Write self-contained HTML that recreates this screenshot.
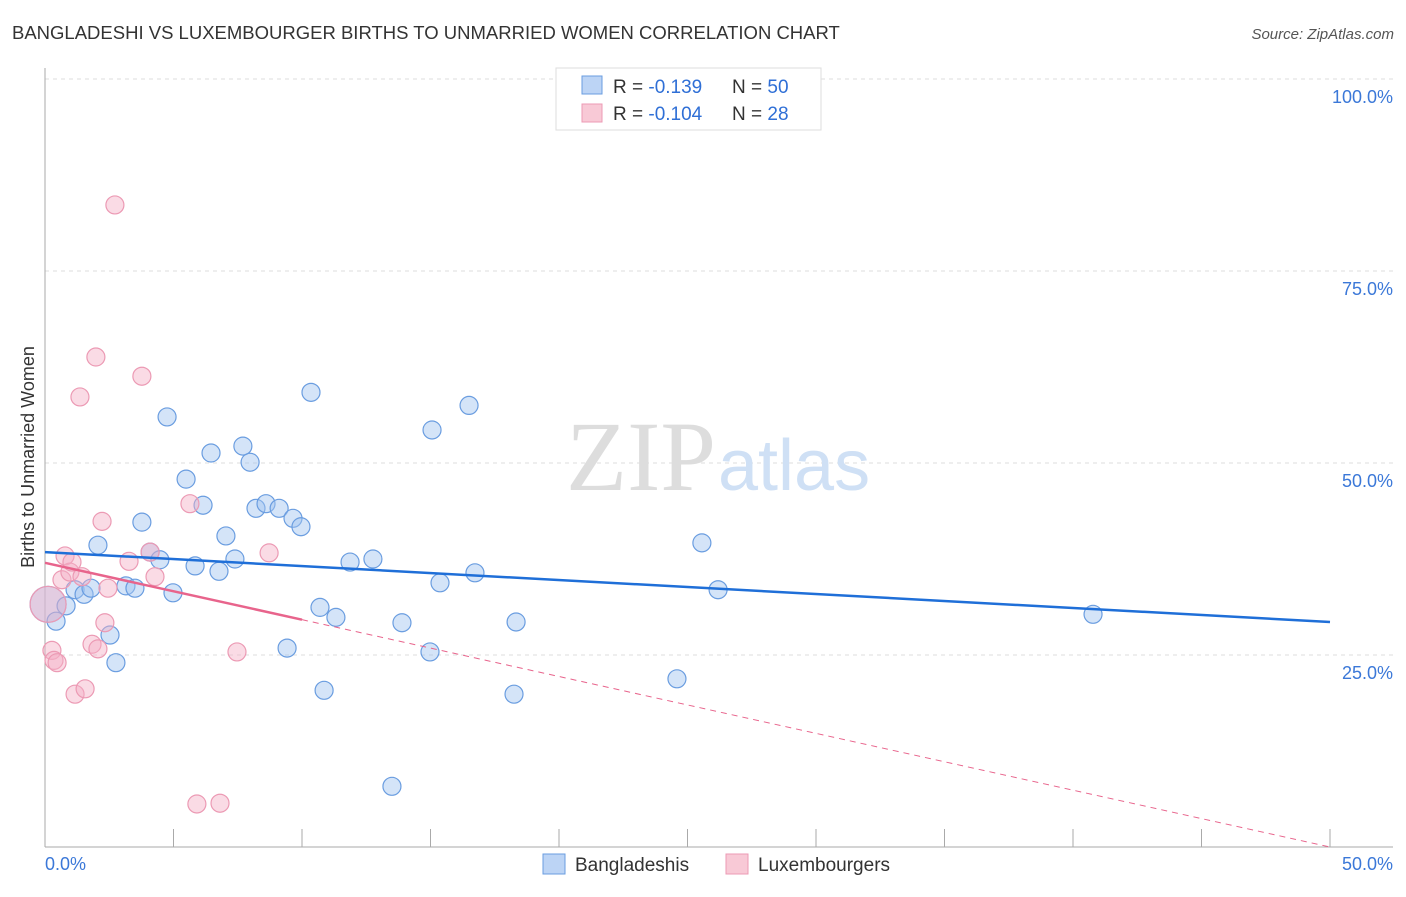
<!DOCTYPE html>
<html><head><meta charset="utf-8"><style>
body{margin:0;background:#fff;font-family:"Liberation Sans",sans-serif;}
svg text{font-family:"Liberation Sans",sans-serif;}
</style></head><body>
<svg id="chart" width="1406" height="892">
<text x="12" y="39" font-size="18.5" fill="#333">BANGLADESHI VS LUXEMBOURGER BIRTHS TO UNMARRIED WOMEN CORRELATION CHART</text>
<text x="1394" y="39" font-size="15" fill="#555" font-style="italic" text-anchor="end">Source: ZipAtlas.com</text>
<g id="grid"></g>
<text x="716" y="490" font-size="100" fill="#ddd" text-anchor="end" style="font-family:'Liberation Serif',serif">ZIP</text>
<text x="718" y="490" font-size="72" fill="#cfe0f5">atlas</text>
<g id="marks"></g>
<text transform="translate(34,457) rotate(-90)" font-size="18" fill="#333" text-anchor="middle">Births to Unmarried Women</text>
<g>
<rect x="556" y="68" width="265" height="62" fill="#fff" stroke="#ddd"/>
<rect x="582" y="76" width="20" height="18" fill="#bcd4f5" stroke="#6a9de0"/>
<rect x="582" y="104" width="20" height="18" fill="#f8c9d6" stroke="#ec9ab4"/>
<text x="613" y="93" font-size="19" fill="#333">R = <tspan fill="#2f6fd6"> -0.139</tspan><tspan x="732">N = </tspan><tspan fill="#2f6fd6">50</tspan></text>
<text x="613" y="120" font-size="19" fill="#333">R = <tspan fill="#2f6fd6">-0.104</tspan><tspan x="732">N = </tspan><tspan fill="#2f6fd6"> 28</tspan></text>
</g>
<g>
<rect x="543" y="854" width="22" height="20" fill="#bcd4f5" stroke="#6a9de0"/>
<text x="575" y="871" font-size="19" fill="#333">Bangladeshis</text>
<rect x="726" y="854" width="22" height="20" fill="#f8c9d6" stroke="#ec9ab4"/>
<text x="758" y="871" font-size="19" fill="#333">Luxembourgers</text>
</g>
</svg>
<script>
const yTicks=[25,50,75,100];
const yTickLabels=["25.0%","50.0%","75.0%","100.0%"];
const blueX=[0.12,0.43,0.82,1.17,1.52,1.79,2.06,2.53,2.76,3.15,3.50,3.77,4.09,4.47,4.75,4.98,5.49,5.84,6.15,6.46,6.77,7.04,7.39,7.70,7.98,8.21,8.60,9.11,9.42,9.65,9.96,10.35,10.70,10.86,11.32,11.87,12.76,13.50,13.89,14.98,15.06,15.37,16.50,16.73,18.25,18.33,24.59,25.56,26.19,40.78];
const blueY=[31.6,29.4,31.4,33.5,32.9,33.7,39.3,27.6,24.0,34.0,33.7,42.3,38.4,37.4,56.0,33.1,47.9,36.6,44.5,51.3,35.9,40.5,37.5,52.2,50.1,44.1,44.7,44.1,25.9,42.8,41.7,59.2,31.2,20.4,29.9,37.1,37.5,7.9,29.2,25.4,54.3,34.4,57.5,35.7,19.9,29.3,21.9,39.6,33.5,30.3];
const pinkX=[0.12,0.27,0.35,0.47,0.66,0.78,0.97,1.05,1.17,1.44,1.56,1.83,1.98,2.06,2.22,2.33,2.45,2.72,3.27,3.77,4.09,4.28,5.64,5.91,6.81,7.47,8.72,1.36];
const pinkY=[31.6,25.6,24.3,24.0,34.8,37.9,35.8,37.1,19.9,35.2,20.6,26.4,63.8,25.8,42.4,29.2,33.7,83.6,37.2,61.3,38.4,35.2,44.7,5.6,5.7,25.4,38.3,58.6];
const blueTrend=[38.4,29.3];
const pinkTrend=[37.0,0.0];
const pinkSolidEnd=10;
const X0=45,X1=1330,YB=847,PY=7.68;
const sx=v=>X0+(v/50)*(X1-X0);
const sy=v=>YB-v*PY;
const NS="http://www.w3.org/2000/svg";
const g=document.getElementById('grid'),m=document.getElementById('marks');
function mk(tag,at,par){const e=document.createElementNS(NS,tag);for(const k in at)e.setAttribute(k,at[k]);par.appendChild(e);return e;}
yTicks.forEach((t,i)=>{
 const l=mk('line',{x1:45,x2:1393,y1:sy(t),y2:sy(t),stroke:'#ddd','stroke-dasharray':'4,4'},g);
 
 
 const tx=mk('text',{x:1393,y:sy(t)+24,'font-size':18,fill:'#3b78d8','text-anchor':'end'},g);
 tx.textContent=yTickLabels[i];
 
 
});
const ya=mk('line',{x1:45,x2:45,y1:68,y2:847,stroke:'#aaa'},g);


const xa=mk('line',{x1:45,x2:1393,y1:847,y2:847,stroke:'#aaa'},g);


for(let i=1;i<=10;i++){const t=mk('line',{x1:sx(i*5),x2:sx(i*5),y1:829,y2:847,stroke:'#aaa'},g);
 
 }
const xl0=mk('text',{x:45,y:870,'font-size':18,fill:'#3b78d8'},g);xl0.textContent='0.0%';


const xl1=mk('text',{x:1393,y:870,'font-size':18,fill:'#3b78d8','text-anchor':'end'},g);xl1.textContent='50.0%';


function dots(X,Y,fill,stroke,name){X.forEach((x,i)=>{
 const c=mk('circle',{cx:sx(x),cy:sy(Y[i]),r:i===0?18:9,fill:fill,stroke:stroke,'stroke-width':1.2},m);
 
 });}
dots(blueX,blueY,'rgba(160,195,240,0.45)','#6a9de0','bangladeshi-point');
dots(pinkX,pinkY,'rgba(245,175,198,0.45)','#ec9ab4','luxembourger-point');
const bl=mk('line',{x1:sx(0),y1:sy(blueTrend[0]),x2:sx(50),y2:sy(blueTrend[1]),stroke:'#1f6fd8','stroke-width':2.5},m);


const pv=x=>pinkTrend[0]+(pinkTrend[1]-pinkTrend[0])*x/50;
const pl=mk('line',{x1:sx(0),y1:sy(pv(0)),x2:sx(pinkSolidEnd),y2:sy(pv(pinkSolidEnd)),stroke:'#e8648c','stroke-width':2.5},m);


const pd=mk('line',{x1:sx(pinkSolidEnd),y1:sy(pv(pinkSolidEnd)),x2:sx(50),y2:sy(pv(50)),stroke:'#e8648c','stroke-width':1,'stroke-dasharray':'6,5'},m);


</script>
</body></html>
